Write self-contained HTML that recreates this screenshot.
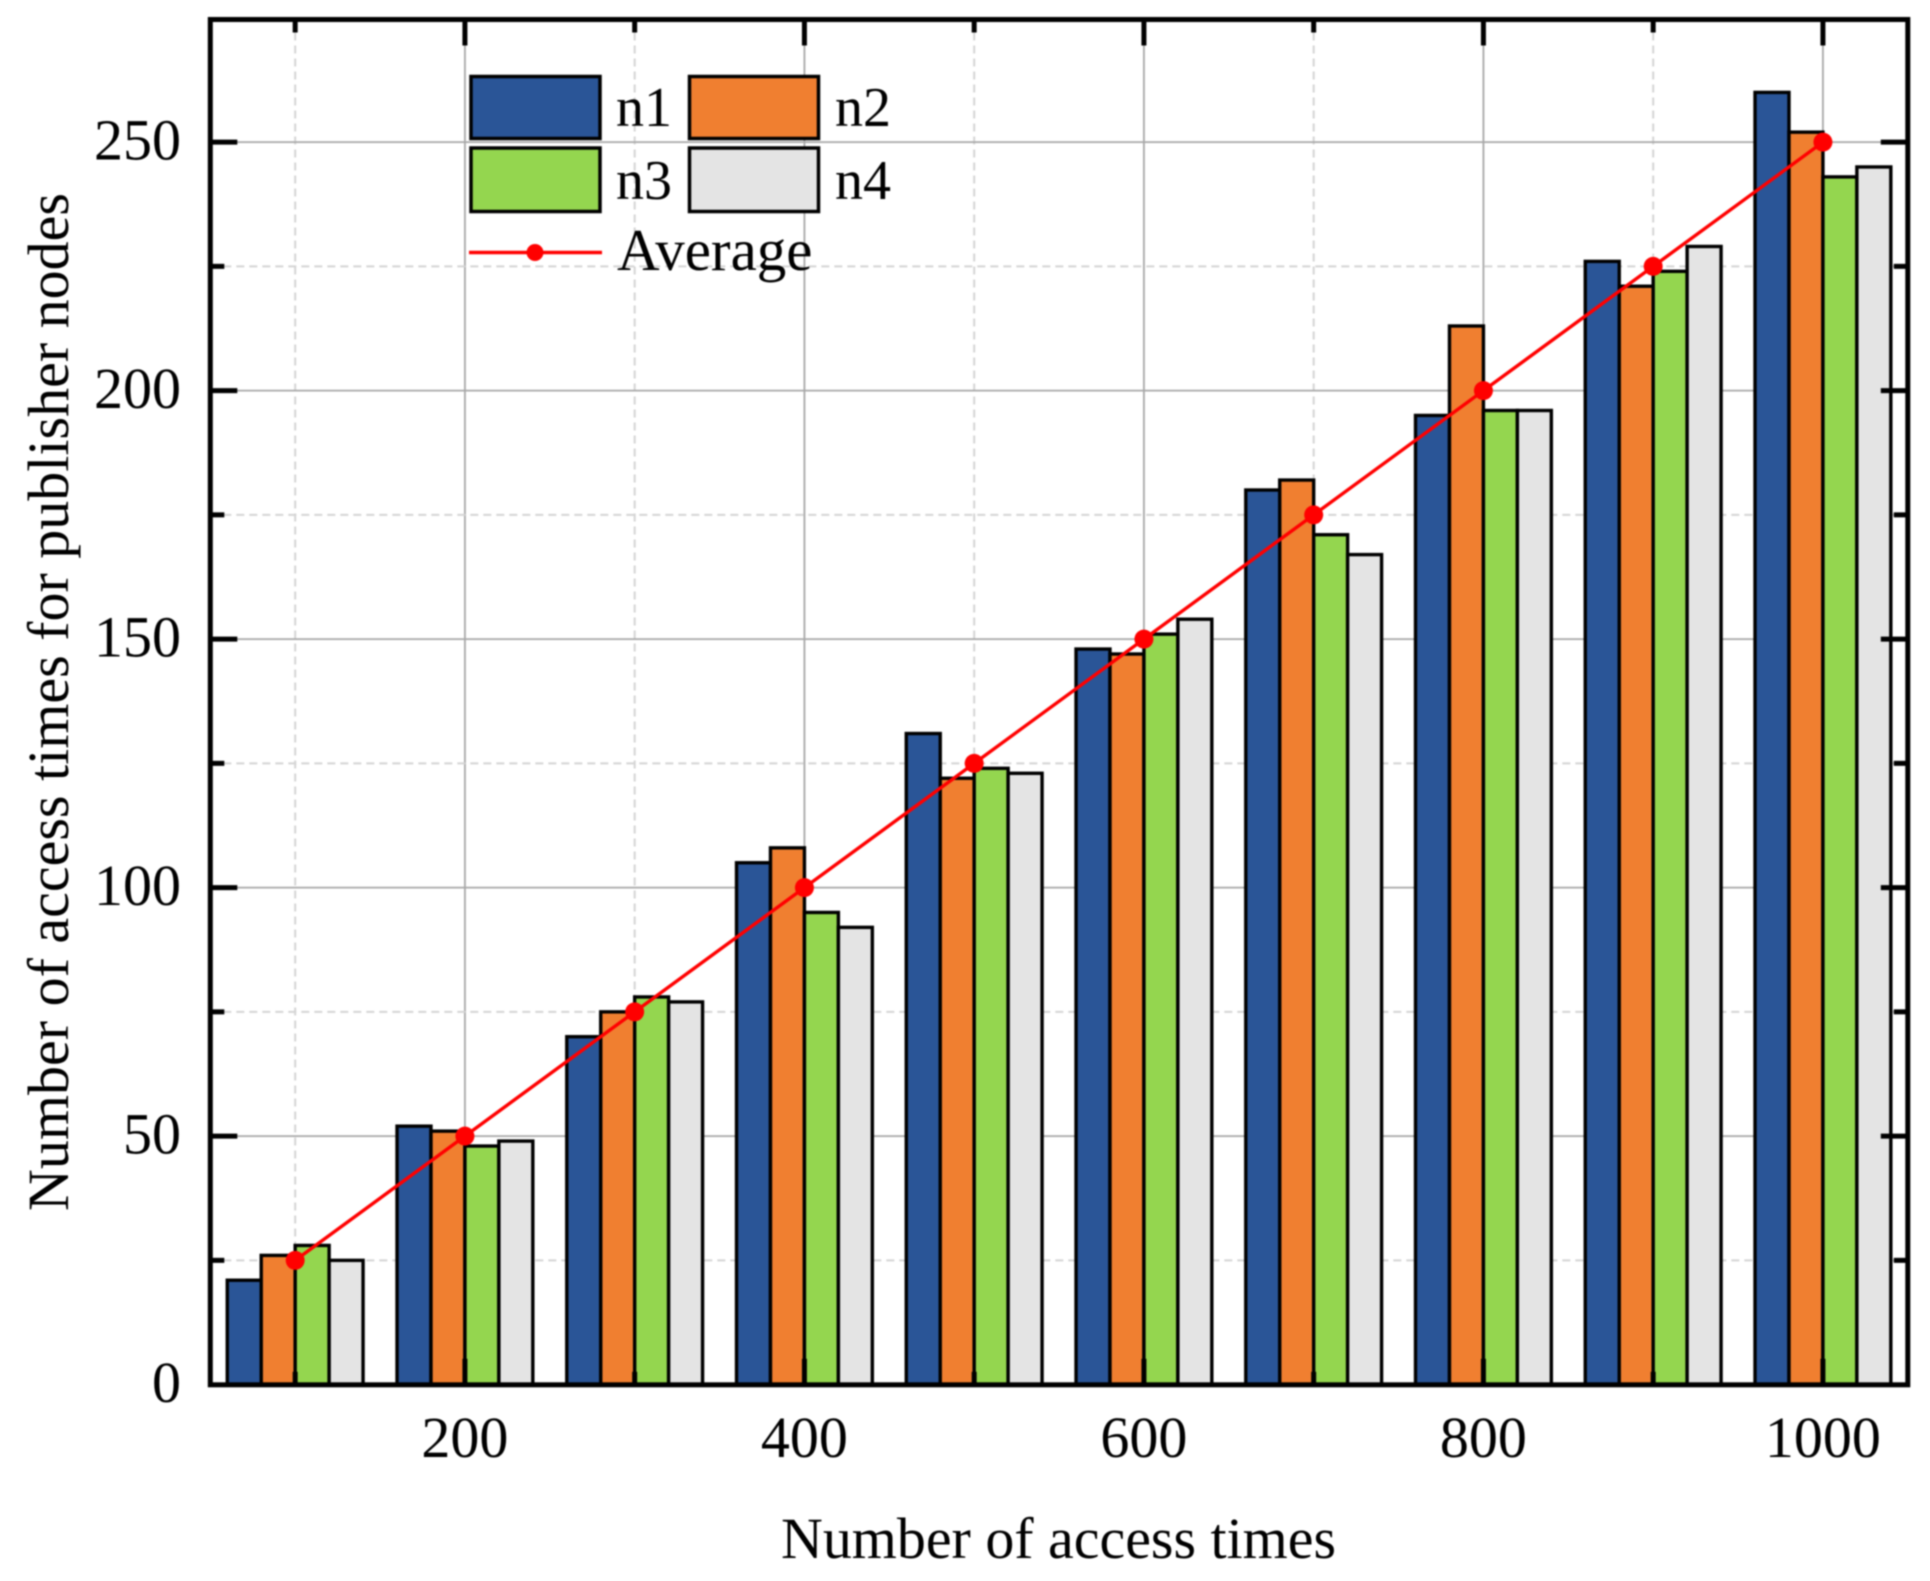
<!DOCTYPE html>
<html>
<head>
<meta charset="utf-8">
<title>Number of access times for publisher nodes</title>
<style>
html,body{margin:0;padding:0;background:#fff;width:1930px;height:1581px;overflow:hidden}
svg{display:block;filter:blur(0.7px)}
text{font-family:"Liberation Serif",serif;fill:#000}
</style>
</head>
<body>
<svg id="chart" xmlns="http://www.w3.org/2000/svg" width="1930" height="1581" viewBox="0 0 1930 1581">
  <rect x="0" y="0" width="1930" height="1581" fill="#fff"/>
  <g id="grid"></g>
  <g id="bars"></g>
  <g id="line"></g>
  <g id="axes"></g>
  <text x="781" y="1558" font-size="58" textLength="555" lengthAdjust="spacingAndGlyphs">Number of access times</text>
  <text transform="translate(68 1211) rotate(-90)" font-size="58" textLength="1018" lengthAdjust="spacingAndGlyphs">Number of access times for publisher nodes</text>
  <g>
    <rect x="471" y="76.5" width="129" height="62" fill="#2A5597" stroke="#000" stroke-width="3.5"/>
    <text x="616" y="126" font-size="56">n1</text>
    <rect x="689.5" y="76.5" width="129" height="62" fill="#F07F30" stroke="#000" stroke-width="3.5"/>
    <text x="835" y="126" font-size="56">n2</text>
    <rect x="471" y="148" width="129" height="63.5" fill="#94D64F" stroke="#000" stroke-width="3.5"/>
    <text x="616" y="199" font-size="56">n3</text>
    <rect x="689.5" y="148" width="129" height="63.5" fill="#E4E4E4" stroke="#000" stroke-width="3.5"/>
    <text x="835" y="199" font-size="56">n4</text>
    <line x1="469" y1="252.5" x2="602" y2="252.5" stroke="#FF0000" stroke-width="3.5"/>
    <circle cx="535" cy="252.5" r="8.5" fill="#FF0000"/>
    <text x="617" y="270" font-size="59">Average</text>
  </g>
</svg>
<script>
const categories = [100, 200, 300, 400, 500, 600, 700, 800, 900, 1000];
const n1 = [21, 52, 70, 105, 131, 148, 180, 195, 226, 260];
const n2 = [26, 51, 75, 108, 122, 147, 182, 213, 221, 252];
const n3 = [28, 48, 78, 95, 124, 151, 171, 196, 224, 243];
const n4 = [25, 49, 77, 92, 123, 154, 167, 196, 229, 245];
const average = [25, 50, 75, 100, 125, 150, 175, 200, 225, 250];
const xTickLabels = [200, 400, 600, 800, 1000];
const xMinorTicks = [100, 300, 500, 700, 900];
const yTickLabels = [0, 50, 100, 150, 200, 250];
const yMinorTicks = [25, 75, 125, 175, 225];

const NS = 'http://www.w3.org/2000/svg';
const LEFT = 210.3, RIGHT = 1907.8, TOP = 19.5, BOTTOM = 1384.8;
const X_MIN = 50, X_MAX = 1050, Y_MIN = 0, Y_UNIT_PX = 4.97, Y_ZERO_PX = 1384.6;
function sx(v) { return LEFT + (v - X_MIN) / (X_MAX - X_MIN) * (RIGHT - LEFT); }
function sy(v) { return Y_ZERO_PX - (v - Y_MIN) * Y_UNIT_PX; }
function make(tag, parent, attrs, txt) {
  const el = document.createElementNS(NS, tag);
  for (const k in attrs) el.setAttribute(k, attrs[k]);
  if (txt !== undefined) el.textContent = txt;
  parent.appendChild(el);
  return el;
}
const grid = document.getElementById('grid');
const barsG = document.getElementById('bars');
const lineG = document.getElementById('line');
const axes = document.getElementById('axes');

xTickLabels.forEach(function (v) {
  const el = make('line', grid, {x1: sx(v), x2: sx(v), y1: TOP, y2: BOTTOM, stroke: '#a8a8a8', 'stroke-width': 1.8});
  
  
});
xMinorTicks.forEach(function (v) {
  const el = make('line', grid, {x1: sx(v), x2: sx(v), y1: TOP, y2: BOTTOM, stroke: '#d4d4d4', 'stroke-width': 2, 'stroke-dasharray': '8 5'});
  
  
});
yTickLabels.forEach(function (v) {
  if (v === 0) return;
  const el = make('line', grid, {x1: LEFT, x2: RIGHT, y1: sy(v), y2: sy(v), stroke: '#a8a8a8', 'stroke-width': 1.8});
  
  
});
yMinorTicks.forEach(function (v) {
  const el = make('line', grid, {x1: LEFT, x2: RIGHT, y1: sy(v), y2: sy(v), stroke: '#d4d4d4', 'stroke-width': 2, 'stroke-dasharray': '8 5'});
  
  
});

const seriesNames = ['n1', 'n2', 'n3', 'n4'];
const seriesValues = [n1, n2, n3, n4];
const seriesColors = ['#2A5597', '#F07F30', '#94D64F', '#E4E4E4'];
const BAR_UNITS = 20;
seriesValues.forEach(function (vals, s) {
  vals.forEach(function (v, i) {
    const x0 = sx(categories[i] + (s - 2) * BAR_UNITS);
    const x1 = sx(categories[i] + (s - 1) * BAR_UNITS);
    const el = make('rect', barsG, {x: x0, y: sy(v), width: x1 - x0, height: sy(0) - sy(v), fill: seriesColors[s], stroke: '#000', 'stroke-width': 3.4});
    
    
  });
});

const pts = categories.map(function (c, i) { return sx(c) + ',' + sy(average[i]); }).join(' ');
const avgLine = make('polyline', lineG, {points: pts, fill: 'none', stroke: '#FF0000', 'stroke-width': 3.4});


categories.forEach(function (c, i) {
  const el = make('circle', lineG, {cx: sx(c), cy: sy(average[i]), r: 9.5, fill: '#FF0000'});
  
  
});

const frame = make('rect', axes, {x: LEFT, y: TOP, width: RIGHT - LEFT, height: BOTTOM - TOP, fill: 'none', stroke: '#000', 'stroke-width': 5});



function xTick(v, len, kind) {
  const b = make('line', axes, {x1: sx(v), x2: sx(v), y1: BOTTOM, y2: BOTTOM - len, stroke: '#000', 'stroke-width': 5});
  
  
  const t = make('line', axes, {x1: sx(v), x2: sx(v), y1: TOP, y2: TOP + len, stroke: '#000', 'stroke-width': 5});
  
  
}
function yTick(v, len, kind) {
  const l = make('line', axes, {x1: LEFT, x2: LEFT + len, y1: sy(v), y2: sy(v), stroke: '#000', 'stroke-width': 5});
  
  
  const r = make('line', axes, {x1: RIGHT, x2: RIGHT - len, y1: sy(v), y2: sy(v), stroke: '#000', 'stroke-width': 5});
  
  
}
xTickLabels.forEach(function (v) {
  xTick(v, 26, 'major');
  const el = make('text', axes, {x: sx(v), y: 1457, 'font-size': 58, 'text-anchor': 'middle'}, String(v));
  
  
});
xMinorTicks.forEach(function (v) { xTick(v, 13, 'minor'); });
yTickLabels.forEach(function (v) {
  if (v !== 0) yTick(v, 27, 'major');
  const el = make('text', axes, {x: 181, y: sy(v) + 17.5, 'font-size': 58, 'text-anchor': 'end'}, String(v));
  
  
});
yMinorTicks.forEach(function (v) { yTick(v, 14, 'minor'); });
</script>
</body>
</html>
